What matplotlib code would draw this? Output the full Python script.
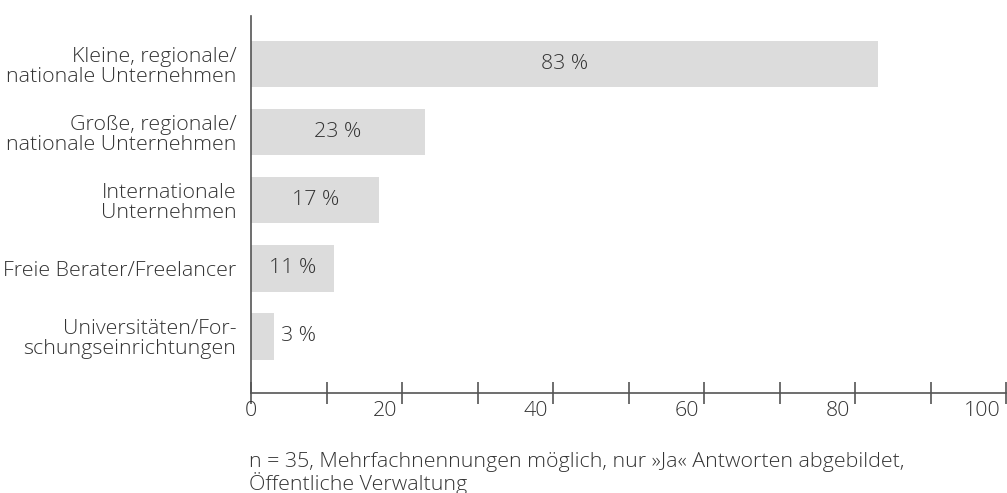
import matplotlib
matplotlib.use("Agg")
import matplotlib.pyplot as plt
from matplotlib import transforms as mtrans

plt.rcParams['font.family'] = ['Open Sans', 'DejaVu Sans']
plt.rcParams['font.weight'] = 'light'

categories = [
    "Kleine, regionale/\nnationale Unternehmen",
    "Große, regionale/\nnationale Unternehmen",
    "Internationale\nUnternehmen",
    "Freie Berater/Freelancer",
    "Universitäten/For-\nschungseinrichtungen",
]
values = [83, 23, 17, 11, 3]
value_labels = ["83 %", "23 %", "17 %", "11 %", "3 %"]
major_ticks = [0, 20, 40, 60, 80, 100]
minor_ticks = [10, 30, 50, 70, 90]
tick_labels = ["0", "20", "40", "60", "80", "100"]
footnote = "n = 35, Mehrfachnennungen möglich, nur »Ja« Antworten abgebildet,\nÖffentliche Verwaltung"

TEXT = "#333333"
BAR = "#dcdcdc"
AXIS = "#555555"
FS = 15.4

W, H = 1007, 493
fig = plt.figure(figsize=(W / 100, H / 100), dpi=100)
ax = fig.add_axes([251 / W, 1 - 393 / H, (1006 - 251) / W, (393 - 16) / H])

pos = list(range(len(categories)))
ax.barh(pos, values, height=0.68, color=BAR, edgecolor='none')
ax.set_xlim(0, 100)
ax.set_ylim(4.83, -0.706)

for p, v, lab in zip(pos, values, value_labels):
    if v >= 8:
        ax.text(v / 2, p, lab, ha='center', va='center', fontsize=FS, color=TEXT)
    else:
        ax.text(v + 1.0, p, lab, ha='left', va='center', fontsize=FS, color=TEXT)

ax.set_yticks(pos)
ax.set_yticklabels(categories, fontsize=FS, color=TEXT, linespacing=1.0)
ax.tick_params(axis='y', length=0, pad=10.5)

for s in ['top', 'right']:
    ax.spines[s].set_visible(False)
for s in ['left', 'bottom']:
    ax.spines[s].set_color(AXIS)
    ax.spines[s].set_linewidth(1.2)

ax.set_xticks(major_ticks)
ax.set_xticks(minor_ticks, minor=True)
ax.set_xticklabels([])
ax.tick_params(axis='x', which='both', direction='inout', length=16, width=1.2, color=AXIS)

for t, lab in zip(major_ticks, tick_labels):
    if t == 0:
        off = mtrans.offset_copy(ax.get_xaxis_transform(), fig=fig, x=0, y=-18, units='dots')
        ax.text(t, 0, lab, ha='center', va='center', fontsize=FS, color=TEXT, transform=off)
    else:
        off = mtrans.offset_copy(ax.get_xaxis_transform(), fig=fig, x=-5, y=-18, units='dots')
        ax.text(t, 0, lab, ha='right', va='center', fontsize=FS, color=TEXT, transform=off)

fig.text(249 / W, 1 - 452 / H, footnote, ha='left', va='top', fontsize=FS, color=TEXT, linespacing=1.0)

fig.savefig("out.png", dpi=100)
